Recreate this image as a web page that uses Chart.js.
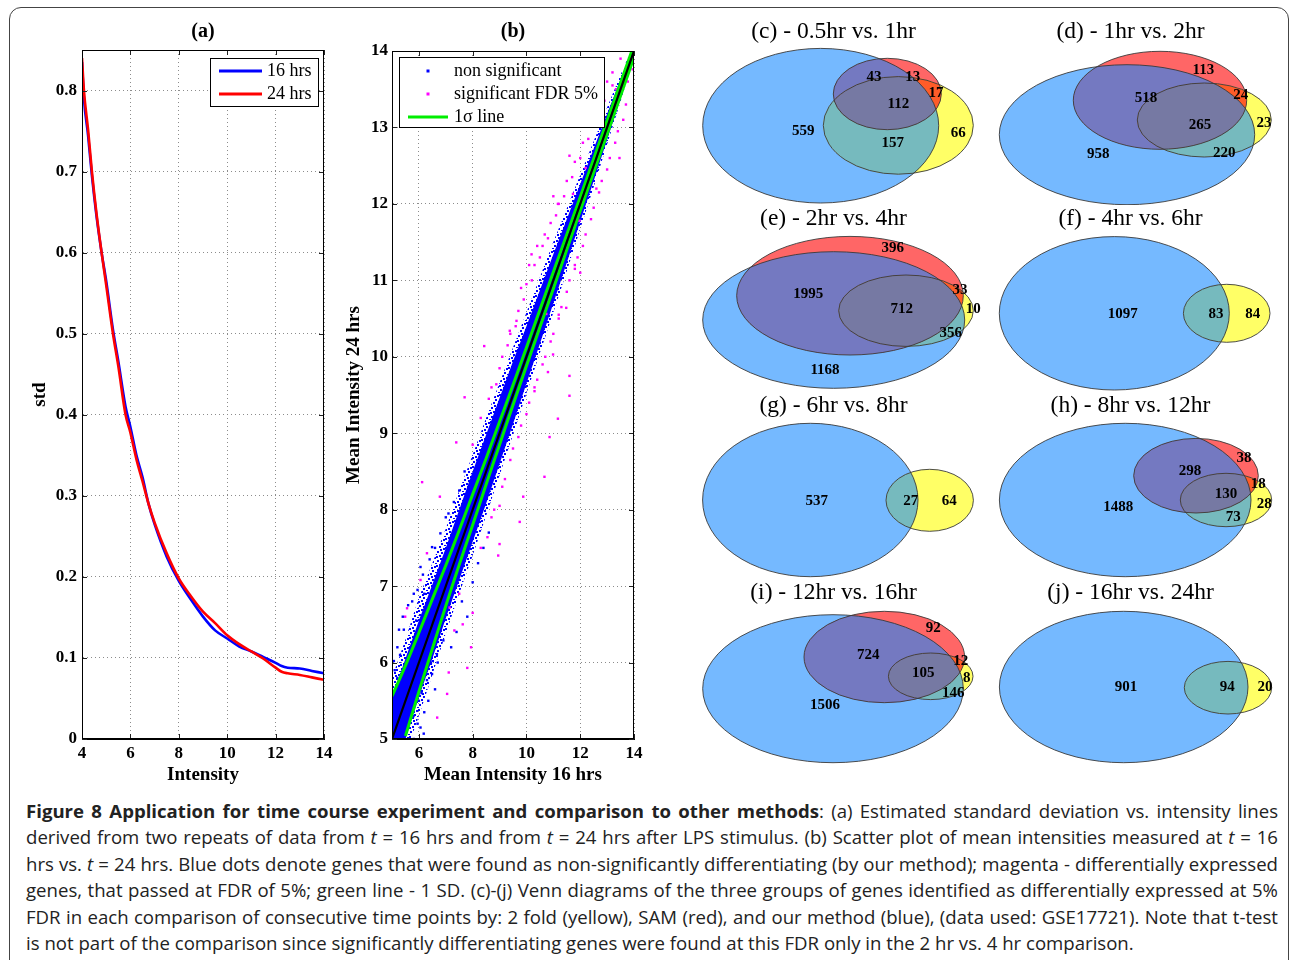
<!DOCTYPE html>
<html>
<head>
<meta charset="utf-8">
<script src="https://cdn.jsdelivr.net/npm/chart.js@4.4.1/dist/chart.umd.min.js"></script>
<style>
html, body { margin: 0; padding: 0; background: #fff; }
#page { position: relative; width: 1290px; height: 960px; overflow: hidden; }
#frame { position: absolute; left: 9px; top: 7px; width: 1280px; height: 1000px; border: 1.5px solid #444; border-radius: 12px; box-sizing: border-box; }
canvas { position: absolute; }
#caption { position: absolute; left: 26px; top: 798px; width: 1252px; font-family: 'Open Sans', sans-serif; font-size: 18.6px; line-height: 26.4px; color: #222; }
#caption div { text-align: justify; text-align-last: justify; white-space: nowrap; }
#caption div.last { text-align-last: left; }
</style>
</head>
<body>
<div id="page">
  <div id="frame"></div>
  <canvas id="chartA" width="320" height="780" style="left:20px;top:15px"></canvas>
  <canvas id="chartB" width="310" height="780" style="left:340px;top:15px"></canvas>
  <div id="vennBox"></div>
  <div id="caption">
    <div><b>Figure 8 Application for time course experiment and comparison to other methods</b>: (a) Estimated standard deviation vs. intensity lines</div>
    <div>derived from two repeats of data from <i>t</i> = 16 hrs and from <i>t</i> = 24 hrs after LPS stimulus. (b) Scatter plot of mean intensities measured at <i>t</i> = 16</div>
    <div>hrs vs. <i>t</i> = 24 hrs. Blue dots denote genes that were found as non-significantly differentiating (by our method); magenta - differentially expressed</div>
    <div>genes, that passed at FDR of 5%; green line - 1 SD. (c)-(j) Venn diagrams of the three groups of genes identified as differentially expressed at 5%</div>
    <div>FDR in each comparison of consecutive time points by: 2 fold (yellow), SAM (red), and our method (blue), (data used: GSE17721). Note that t-test</div>
    <div class="last">is not part of the comparison since significantly differentiating genes were found at this FDR only in the 2 hr vs. 4 hr comparison.</div>
  </div>
</div>
<script>
// ---- panel (a): std vs intensity
const intensity = [4.0, 4.08, 4.25, 4.41, 4.6, 4.81, 5.0, 5.28, 5.5, 5.8, 6.0, 6.25, 6.5, 6.75, 7.0, 7.5, 8.0, 8.5, 9.0, 9.5, 10.0, 10.5, 11.0, 11.5, 12.0, 12.25, 12.5, 13.0, 13.5, 14.0];
const std16 = [0.835, 0.79, 0.745, 0.695, 0.645, 0.60, 0.565, 0.505, 0.466, 0.41, 0.385, 0.35, 0.323, 0.29, 0.265, 0.225, 0.195, 0.172, 0.151, 0.134, 0.124, 0.114, 0.108, 0.101, 0.094, 0.090, 0.088, 0.087, 0.084, 0.081];
const std24 = [0.84, 0.80, 0.752, 0.70, 0.648, 0.60, 0.56, 0.50, 0.46, 0.40, 0.378, 0.345, 0.318, 0.29, 0.267, 0.229, 0.198, 0.176, 0.157, 0.143, 0.128, 0.117, 0.108, 0.099, 0.088, 0.083, 0.081, 0.079, 0.076, 0.073];
const stdTicks = [0, 0.1, 0.2, 0.3, 0.4, 0.5, 0.6, 0.7, 0.8];
const intensityTicks = [4, 6, 8, 10, 12, 14];

// ---- panel (b): mean intensity scatter
const meanTicksX = [6, 8, 10, 12, 14];
const meanTicksY = [5, 6, 7, 8, 9, 10, 11, 12, 13, 14];
// dense part of the non-significant cloud (core) and its thinner fringe (halo)
const bandX = [5.0, 5.5, 6, 6.5, 7, 7.5, 8, 8.5, 9, 9.5, 10, 10.5, 11, 11.5, 12, 12.5, 13, 13.5, 14];
const coreLow = [4.5, 5.0, 5.55, 6.05, 6.58, 7.08, 7.58, 8.08, 8.6, 9.12, 9.65, 10.17, 10.7, 11.23, 11.77, 12.3, 12.84, 13.38, 13.94];
const coreHigh = [5.55, 6.05, 6.55, 7.02, 7.5, 8.0, 8.5, 8.98, 9.46, 9.94, 10.4, 10.87, 11.34, 11.8, 12.26, 12.72, 13.18, 13.63, 14.06];
const haloLow = [4.3, 4.8, 5.3, 5.84, 6.38, 6.9, 7.4, 7.92, 8.45, 8.98, 9.52, 10.05, 10.58, 11.12, 11.67, 12.22, 12.78, 13.34, 13.92];
const haloHigh = [5.8, 6.3, 6.85, 7.3, 7.75, 8.25, 8.72, 9.2, 9.66, 10.12, 10.58, 11.04, 11.5, 11.94, 12.38, 12.82, 13.26, 13.69, 14.1];
const nonSigX = [5.07, 5.26, 5.44, 5.2, 5.1, 5.31, 6.06, 6.18, 5.57, 5.81, 5.68, 6.49, 6.67, 6.91, 6.3, 5.81, 6.06, 6.49, 6.8, 7.4, 7.8, 5.15, 5.35, 5.05, 5.5, 5.6, 5.3, 6.0, 6.2, 6.6, 7.2, 5.9, 6.2, 7.1, 7.5, 8.6, 8.2,
  5.1, 5.2, 5.4, 5.6, 5.75, 5.05, 5.25, 5.45, 5.6, 5.8, 5.95, 6.1, 6.35, 6.45, 6.7, 5.95, 6.15, 6.4, 6.6, 7.0, 7.3, 7.7, 7.6, 8.0, 8.4];
const nonSigY = [6.02, 6.43, 6.43, 5.8, 5.33, 5.54, 5.15, 5.07, 5.15, 5.0, 5.41, 5.85, 6.11, 6.29, 5.77, 6.9, 7.25, 7.51, 7.69, 6.4, 6.6, 5.05, 5.2, 5.6, 5.75, 6.1, 6.1, 5.5, 5.35, 5.65, 6.2, 6.55, 6.9, 7.95, 8.25, 7.7, 7.3,
  5.9, 6.2, 6.6, 6.75, 6.8, 5.45, 5.35, 5.3, 5.45, 5.3, 5.2, 5.6, 5.5, 6.0, 6.0, 6.95, 7.15, 7.35, 7.5, 7.9, 8.1, 8.5, 6.8, 7.05, 7.5];
const sigX = [13.2, 13.95, 13.77, 13.33, 13.46, 11.6, 11.17, 11.73, 11.97, 12.6, 12.2, 10.19, 10.68, 11.48, 10.74, 9.63, 9.38, 8.43, 11.6, 10.99, 7.7, 8.88, 11.6, 11.17, 10.86, 10.67, 9.88, 9.75, 9.0, 8.55, 8.95, 7.39, 6.78, 6.12, 5.56, 5.49, 6.06, 6.3, 7.94, 7.63, 7.32, 7.8, 7.11, 7.05, 6.68, 7.5, 7.14, 8.0,
  8.6, 9.0, 9.3, 9.6, 9.9, 10.2, 10.5, 10.8, 11.1, 11.4, 11.7, 12.0, 12.3, 12.6, 12.9, 13.2, 9.8, 10.1,
  8.8, 9.2, 9.5, 9.8, 10.1, 10.4, 10.7, 11.0, 11.3, 11.6, 11.9, 12.2, 12.5, 12.8, 13.1, 13.4, 13.7, 10.3, 11.2, 11.8,
  8.0, 8.3, 8.7, 9.1, 9.4, 9.7, 10.0, 10.3, 10.6, 10.9, 11.2, 11.5, 11.8, 12.1, 12.4, 12.7, 13.0, 13.5, 10.4, 11.0,
  8.3, 8.7, 9.1, 9.4, 9.7, 10.0, 10.3, 10.6, 10.9, 11.2, 11.5, 11.8, 12.1, 12.4, 12.7, 13.0, 13.3, 13.6, 10.8, 12.0, 9.0];
const sigY = [13.72, 13.76, 13.6, 13.5, 12.6, 12.63, 12.0, 12.13, 11.78, 12.2, 12.47, 11.34, 11.6, 10.64, 10.56, 10.47, 10.34, 10.14, 9.75, 10.03, 9.47, 9.64, 9.49, 9.19, 8.95, 8.43, 8.17, 7.84, 7.55, 7.64, 7.4, 8.88, 8.17, 8.36, 6.71, 6.6, 7.08, 7.43, 6.2, 6.5, 6.42, 5.93, 5.87, 5.59, 5.28, 6.9, 6.72, 6.65,
  9.45, 9.85, 10.15, 10.4, 10.75, 11.0, 11.3, 11.55, 11.85, 12.1, 12.35, 12.6, 12.85, 13.05, 13.35, 13.55, 10.9, 11.2,
  8.0, 8.4, 8.8, 9.1, 9.4, 9.7, 10.0, 10.3, 10.65, 11.0, 11.3, 11.6, 11.95, 12.3, 12.6, 12.95, 13.3, 9.55, 10.5, 11.2,
  8.85, 9.2, 9.6, 10.0, 10.3, 10.6, 10.95, 11.2, 11.45, 11.75, 12.0, 12.3, 12.55, 12.8, 13.1, 13.3, 13.6, 13.9, 11.45, 12.1,
  7.5, 7.9, 8.3, 8.65, 8.95, 9.25, 9.6, 9.9, 10.2, 10.55, 10.85, 11.15, 11.45, 11.8, 12.15, 12.45, 12.8, 13.1, 9.8, 11.1, 8.05];
const sigmaUpX = [5, 5.5, 6, 6.5, 7, 7.5, 8, 8.5, 9, 9.5, 10, 11, 12, 13, 14];
const sigmaUpY = [5.56, 5.96, 6.39, 6.83, 7.27, 7.73, 8.2, 8.67, 9.15, 9.63, 10.12, 11.11, 12.09, 13.09, 14.08];
const sigmaLoX = [5.5, 6, 6.5, 7, 7.5, 8, 8.5, 9, 9.5, 10, 11, 12, 13, 14];
const sigmaLoY = [5.04, 5.62, 6.18, 6.74, 7.28, 7.8, 8.33, 8.85, 9.37, 9.88, 10.89, 11.91, 12.91, 13.92];
const diagX = [5, 14];
const diagY = [5, 14];

// ---- panels (c)-(j): Venn counts
const vennTitles = ['(c) - 0.5hr vs. 1hr', '(d) - 1hr vs. 2hr', '(e) - 2hr vs. 4hr', '(f) - 4hr vs. 6hr',
  '(g) - 6hr vs. 8hr', '(h) - 8hr vs. 12hr', '(i) - 12hr vs. 16hr', '(j) - 16hr vs. 24hr'];
const vennCounts = [
  [559, 43, 13, 17, 112, 157, 66],
  [113, 24, 518, 265, 23, 220, 958],
  [396, 33, 10, 1995, 712, 356, 1168],
  [1097, 83, 84],
  [537, 27, 64],
  [38, 298, 18, 130, 28, 73, 1488],
  [92, 724, 12, 105, 8, 146, 1506],
  [901, 94, 20]
];

// layout of the Venn shapes (canvas units): [cx, cy, rx, ry]
const vennShapes = [
  { B: [130.7, 110.7, 118, 77.3], R: [197.3, 79, 54, 35.7], Y: [208.3, 110.4, 75, 48.8] },
  { B: [140, 119.7, 127.7, 70], R: [173, 85.3, 86.7, 49], Y: [217.3, 105, 67, 37] },
  { B: [143.7, 118, 131, 68.3], R: [160, 93.7, 113.3, 59.3], Y: [216, 108.7, 67.3, 35.7] },
  { B: [127.3, 111.3, 115, 76.7], Y: [239.7, 111.3, 43.3, 29] },
  { B: [120.3, 111, 107.7, 76.7], Y: [239.7, 111.3, 43.7, 31] },
  { B: [138.2, 111, 125.8, 76.7], R: [209, 86.7, 62.3, 37.3], Y: [239, 111, 45.7, 26.7] },
  { B: [143, 112.7, 130.3, 74], R: [194.3, 81, 80.3, 45.7], Y: [240.7, 100.3, 42.3, 23.3] },
  { B: [136.7, 111, 124.3, 75.7], Y: [241, 111.7, 43.7, 26.3] }
];
const vennLabelPos = [
  [[113.3, 116], [184, 61.7], [222.7, 61.7], [246, 78.3], [208.3, 89.3], [202.7, 128.3], [268.3, 118.3]],
  [[216.3, 54.7], [253.7, 79.7], [159, 83], [213, 109.7], [277, 108], [237.3, 138], [111.3, 139]],
  [[202.7, 46.3], [270, 88], [283.3, 107], [118.3, 92.3], [211.7, 107], [260.7, 131.3], [135, 168]],
  [[135.7, 111.7], [229, 111.7], [265.7, 111.7]],
  [[126.7, 111.7], [220.7, 111.7], [259.3, 111.7]],
  [[257, 69.3], [203, 81.7], [271.3, 95.3], [239, 105.3], [277.3, 115.3], [246.3, 127.7], [131.3, 117.7]],
  [[243.3, 52], [178.3, 78.7], [270.7, 85.3], [233.3, 97], [276.7, 102], [263.3, 117], [135, 128.7]],
  [[139, 111], [240.3, 111], [278, 111]]
];

const SERIF = "'Liberation Serif', 'Times New Roman', serif";
Chart.defaults.font.family = SERIF;
Chart.defaults.color = '#000';
Chart.defaults.animation = false;
Chart.defaults.plugins.legend.display = false;
Chart.defaults.plugins.tooltip.enabled = false;

const pts = (xs, ys) => xs.map((v, i) => ({ x: v, y: ys[i] }));

// speckled fill for the fringe of the cloud
function speckle() {
  const c = document.createElement('canvas');
  c.width = 9; c.height = 9;
  const g = c.getContext('2d');
  g.fillStyle = '#0000ff';
  [[0, 0], [4, 2], [7, 5], [2, 6], [5, 8], [1, 3], [6, 1]].forEach(p => g.fillRect(p[0], p[1], 2, 2));
  return g.createPattern(c, 'repeat');
}

// frame + inward ticks, MATLAB style
const boxPlugin = {
  id: 'boxPlugin',
  afterDraw(chart) {
    const { ctx, chartArea: a, scales: { x, y } } = chart;
    ctx.save();
    ctx.strokeStyle = '#222';
    ctx.lineWidth = 1;
    ctx.beginPath();
    x.ticks.forEach(t => {
      const px = Math.round(x.getPixelForValue(t.value)) + 0.5;
      ctx.moveTo(px, a.bottom); ctx.lineTo(px, a.bottom - 5);
      ctx.moveTo(px, a.top); ctx.lineTo(px, a.top + 5);
    });
    y.ticks.forEach(t => {
      const py = Math.round(y.getPixelForValue(t.value)) + 0.5;
      ctx.moveTo(a.left, py); ctx.lineTo(a.left + 5, py);
      ctx.moveTo(a.right, py); ctx.lineTo(a.right - 5, py);
    });
    ctx.stroke();
    ctx.strokeStyle = '#000';
    ctx.strokeRect(Math.round(a.left) + 0.5, Math.round(a.top) + 0.5, Math.round(a.width) - 1, Math.round(a.height) - 1);
    ctx.restore();
  }
};

const panelTitle = {
  id: 'panelTitle',
  afterDraw(chart, args, opts) {
    if (!opts.text) return;
    const { ctx, chartArea: a } = chart;
    ctx.save();
    ctx.font = opts.font;
    ctx.fillStyle = '#000';
    ctx.textAlign = 'center';
    ctx.textBaseline = 'middle';
    ctx.fillText(opts.text, (a.left + a.right) / 2, opts.y);
    ctx.restore();
  }
};

// legend box drawn inside the plot
const innerLegend = {
  id: 'innerLegend',
  afterDraw(chart, args, opts) {
    if (!opts.items) return;
    const { ctx } = chart;
    const ds = chart.data.datasets;
    ctx.save();
    ctx.fillStyle = '#fff';
    ctx.fillRect(opts.x, opts.y, opts.w, opts.h);
    ctx.strokeStyle = '#000';
    ctx.lineWidth = 1;
    ctx.strokeRect(opts.x + 0.5, opts.y + 0.5, opts.w, opts.h);
    ctx.font = '18px ' + SERIF;
    ctx.textBaseline = 'middle';
    opts.items.forEach((it, i) => {
      const d = ds[it.ds];
      const cy = opts.y + opts.first + i * opts.rowH;
      if (it.kind === 'line') {
        ctx.strokeStyle = d.borderColor;
        ctx.lineWidth = 3;
        ctx.beginPath();
        ctx.moveTo(opts.x + opts.lineFrom, cy);
        ctx.lineTo(opts.x + opts.lineTo, cy);
        ctx.stroke();
      } else {
        ctx.fillStyle = d.backgroundColor;
        ctx.fillRect(opts.x + opts.dotX - 1.5, cy - 1.5, 3, 3);
      }
      ctx.fillStyle = '#000';
      ctx.fillText(it.text || d.label, opts.x + opts.textX, cy);
    });
    ctx.restore();
  }
};

const gridOpts = { color: '#8c8c8c', lineWidth: 1, drawTicks: false };
const borderOpts = { display: true, color: '#000', dash: [1, 3] };
const tickFont = { size: 17, weight: 'bold' };
const axisTitleFont = { size: 19, weight: 'bold', lineHeight: 1.2 };

// ---- chart (a)
new Chart(document.getElementById('chartA'), {
  type: 'line',
  data: {
    datasets: [
      { label: '24 hrs', data: pts(intensity, std24), borderColor: '#ff0000', borderWidth: 2.6, pointRadius: 0, cubicInterpolationMode: 'monotone', order: 1 },
      { label: '16 hrs', data: pts(intensity, std16), borderColor: '#0000ff', borderWidth: 2.6, pointRadius: 0, cubicInterpolationMode: 'monotone', order: 2 }
    ]
  },
  options: {
    responsive: false,
    layout: { padding: { top: 35, right: 16, left: 0, bottom: 0 } },
    scales: {
      x: {
        type: 'linear', min: 4, max: 14,
        afterBuildTicks: s => { s.ticks = intensityTicks.map(v => ({ value: v })); },
        afterFit: s => { s.height = 56; },
        grid: gridOpts, border: borderOpts,
        ticks: { font: tickFont, padding: 4, maxRotation: 0 },
        title: { display: true, text: 'Intensity', font: axisTitleFont, padding: { top: 0, bottom: 9 } }
      },
      y: {
        type: 'linear', min: 0, max: 0.85,
        afterBuildTicks: s => { s.ticks = stdTicks.map(v => ({ value: v })); },
        afterFit: s => { s.width = 62; },
        grid: gridOpts, border: borderOpts,
        ticks: { font: tickFont, padding: 5, callback: v => (v === 0 ? '0' : v.toFixed(1)) },
        title: { display: true, text: 'std', font: axisTitleFont, padding: { top: 9, bottom: 0 } }
      }
    },
    plugins: {
      panelTitle: { text: '(a)', y: 17, font: 'bold 20px ' + SERIF },
      innerLegend: {
        x: 190, y: 43, w: 108, h: 48, first: 13, rowH: 23, lineFrom: 9, lineTo: 52, textX: 57,
        items: [{ ds: 1, kind: 'line' }, { ds: 0, kind: 'line' }]
      }
    }
  },
  plugins: [boxPlugin, panelTitle, innerLegend]
});

// ---- chart (b)
const dot = { showLine: false, pointStyle: 'rect', pointRadius: 1.7, borderWidth: 0 };
new Chart(document.getElementById('chartB'), {
  type: 'line',
  data: {
    datasets: [
      { label: 'halo low', data: pts(bandX, haloLow), borderWidth: 0, pointRadius: 0, fill: false, order: 13 },
      { label: 'halo high', data: pts(bandX, haloHigh), borderWidth: 0, pointRadius: 0, fill: '-1', backgroundColor: speckle(), order: 12 },
      { label: 'non significant', data: pts(nonSigX, nonSigY), ...dot, backgroundColor: '#0000ff', order: 9 },
      { label: 'significant FDR 5%', data: pts(sigX, sigY), ...dot, backgroundColor: '#ff00ff', order: 8 },
      { label: '1σ line', data: pts(sigmaUpX, sigmaUpY), borderColor: '#00ee00', borderWidth: 3, pointRadius: 0, tension: 0.3, order: 3 },
      { label: '1σ lower', data: pts(sigmaLoX, sigmaLoY), borderColor: '#00ee00', borderWidth: 3, pointRadius: 0, tension: 0.3, order: 3 },
      { label: 'identity', data: pts(diagX, diagY), borderColor: '#000000', borderWidth: 2.2, pointRadius: 0, order: 1 },
      { label: 'core low', data: pts(bandX, coreLow), borderWidth: 0, pointRadius: 0, fill: false, order: 11 },
      { label: 'core high', data: pts(bandX, coreHigh), borderWidth: 0, pointRadius: 0, fill: '-1', backgroundColor: '#0000ff', order: 10 }
    ]
  },
  options: {
    responsive: false,
    layout: { padding: { top: 36, right: 16, left: 0, bottom: 0 } },
    scales: {
      x: {
        type: 'linear', min: 5, max: 14,
        afterBuildTicks: s => { s.ticks = meanTicksX.map(v => ({ value: v })); },
        afterFit: s => { s.height = 56; },
        grid: gridOpts, border: borderOpts,
        ticks: { font: tickFont, padding: 4, maxRotation: 0 },
        title: { display: true, text: 'Mean Intensity 16 hrs', font: axisTitleFont, padding: { top: 0, bottom: 9 } }
      },
      y: {
        type: 'linear', min: 5, max: 14,
        afterBuildTicks: s => { s.ticks = meanTicksY.map(v => ({ value: v })); },
        afterFit: s => { s.width = 52; },
        grid: gridOpts, border: borderOpts,
        ticks: { font: tickFont, padding: 4 },
        title: { display: true, text: 'Mean Intensity 24 hrs', font: axisTitleFont, padding: { top: 3, bottom: 0 } }
      }
    },
    plugins: {
      panelTitle: { text: '(b)', y: 17, font: 'bold 20px ' + SERIF },
      innerLegend: {
        x: 59, y: 42, w: 205, h: 70, first: 14, rowH: 23, dotX: 29, lineFrom: 9, lineTo: 49, textX: 55,
        items: [{ ds: 2, kind: 'dot' }, { ds: 3, kind: 'dot' }, { ds: 4, kind: 'line' }]
      }
    }
  },
  plugins: [boxPlugin, panelTitle, innerLegend]
});

// ---- Venn diagrams (c)-(j)
const vennColors = {
  B: '#75b9ff', R: '#ff6666', Y: '#ffff66',
  BR: '#7479c1', BY: '#76babe', RY: '#ff5c28', BRY: '#7679a3'
};

const vennPlugin = {
  id: 'vennPlugin',
  beforeDatasetsDraw(chart, args, opts) {
    const { ctx, scales: { x, y } } = chart;
    const shp = opts.shapes;
    const path = e => {
      const p = new Path2D();
      const cx = x.getPixelForValue(e[0]), cy = y.getPixelForValue(e[1]);
      const rx = Math.abs(x.getPixelForValue(e[0] + e[2]) - cx);
      const ry = Math.abs(y.getPixelForValue(e[1] + e[3]) - cy);
      p.ellipse(cx, cy, rx, ry, 0, 0, Math.PI * 2);
      return p;
    };
    const P = {};
    ['B', 'R', 'Y'].forEach(k => { if (shp[k]) P[k] = path(shp[k]); });
    const region = (keys, color) => {
      if (!keys.every(k => P[k])) return;
      ctx.save();
      keys.slice(0, -1).forEach(k => ctx.clip(P[k]));
      ctx.fillStyle = color;
      ctx.fill(P[keys[keys.length - 1]]);
      ctx.restore();
    };
    region(['B'], vennColors.B);
    region(['R'], vennColors.R);
    region(['Y'], vennColors.Y);
    region(['B', 'R'], vennColors.BR);
    region(['B', 'Y'], vennColors.BY);
    region(['R', 'Y'], vennColors.RY);
    region(['B', 'R', 'Y'], vennColors.BRY);
    ctx.save();
    ctx.strokeStyle = '#3a3a3a';
    ctx.lineWidth = 0.9;
    Object.values(P).forEach(p => ctx.stroke(p));
    ctx.restore();
  },
  afterDatasetsDraw(chart) {
    const { ctx } = chart;
    const ds = chart.data.datasets[0];
    const meta = chart.getDatasetMeta(0);
    ctx.save();
    ctx.font = 'bold 15px ' + SERIF;
    ctx.fillStyle = '#000';
    ctx.textAlign = 'center';
    ctx.textBaseline = 'middle';
    meta.data.forEach((el, i) => ctx.fillText(String(ds.counts[i]), el.x, el.y));
    ctx.restore();
  }
};

const vennBox = document.getElementById('vennBox');
vennTitles.forEach((title, i) => {
  const col = i % 2, row = Math.floor(i / 2);
  const cv = document.createElement('canvas');
  cv.width = 297; cv.height = 190;
  cv.style.left = (690 + col * 297) + 'px';
  cv.style.top = (15 + row * 187) + 'px';
  vennBox.appendChild(cv);
  new Chart(cv, {
    type: 'scatter',
    data: {
      datasets: [{
        label: title,
        counts: vennCounts[i],
        data: vennLabelPos[i].map(p => ({ x: p[0], y: p[1] })),
        pointRadius: 0
      }]
    },
    options: {
      responsive: false,
      layout: { padding: { top: 30, right: 10, left: 0, bottom: 0 } },
      scales: {
        x: { type: 'linear', display: false, min: 0, max: 287 },
        y: { type: 'linear', display: false, min: 30, max: 190, reverse: true }
      },
      plugins: {
        panelTitle: { text: title, y: 17, font: '23.5px ' + SERIF },
        vennPlugin: { shapes: vennShapes[i] }
      }
    },
    plugins: [vennPlugin, panelTitle]
  });
});
</script>
</body>
</html>
